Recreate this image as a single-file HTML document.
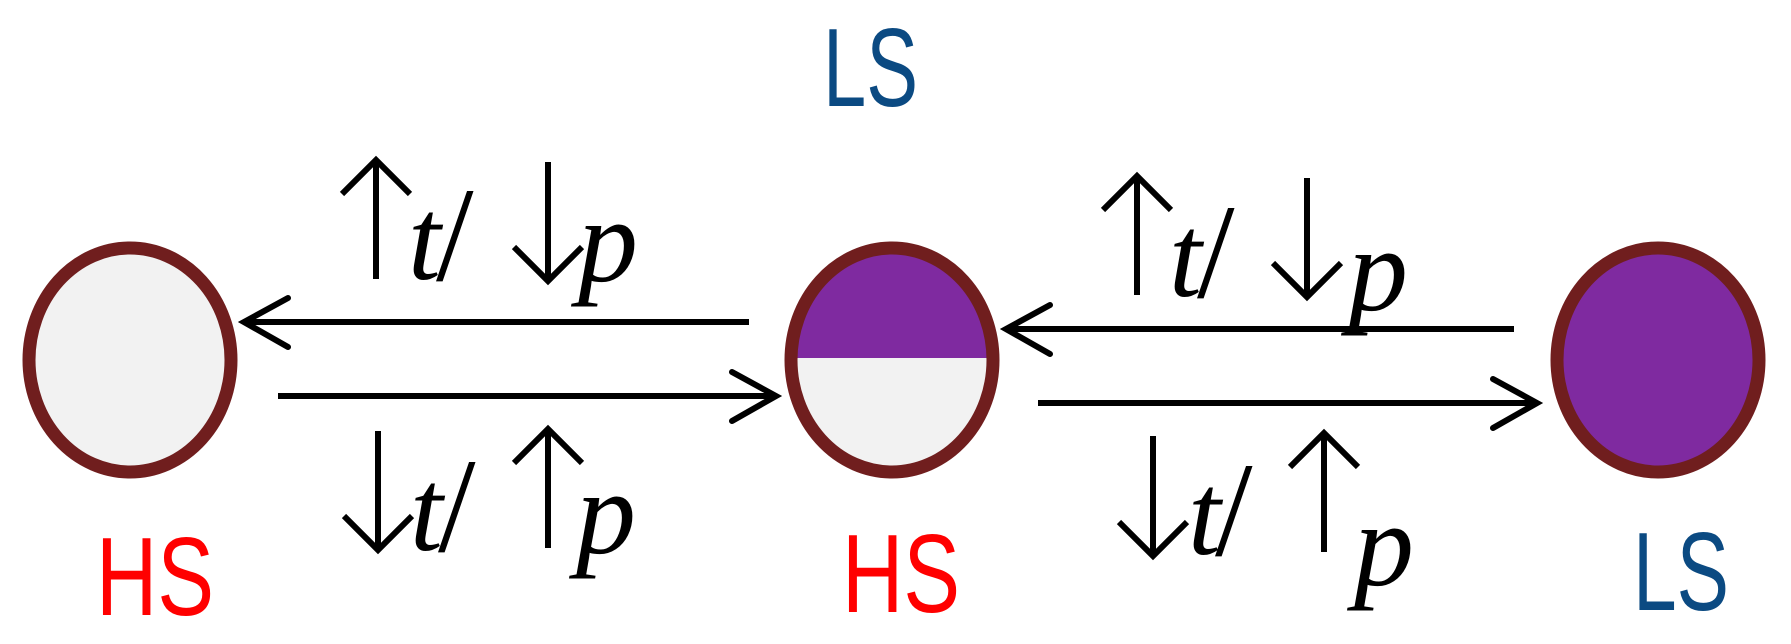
<!DOCTYPE html>
<html><head><meta charset="utf-8"><style>
html,body{margin:0;padding:0;background:#fff;}
svg{display:block}
</style></head><body>
<svg width="1791" height="644" viewBox="0 0 1791 644" xmlns="http://www.w3.org/2000/svg">
<defs>
<clipPath id="mc"><ellipse cx="892" cy="360" rx="101" ry="112"/></clipPath>
</defs>
<ellipse cx="130" cy="360" rx="101" ry="112" fill="#f2f2f2" stroke="#701e1e" stroke-width="13"/>
<g clip-path="url(#mc)">
<rect x="780" y="240" width="230" height="118" fill="#7f2aa0"/>
<rect x="780" y="358" width="230" height="130" fill="#f2f2f2"/>
</g>
<ellipse cx="892" cy="360" rx="101" ry="112" fill="none" stroke="#701e1e" stroke-width="13"/>
<ellipse cx="1658" cy="360" rx="101" ry="112" fill="#7f2aa0" stroke="#701e1e" stroke-width="13"/>

<g stroke="#000" stroke-width="6" fill="none" stroke-linecap="round" stroke-linejoin="miter">
<line x1="246" y1="322" x2="749" y2="322" stroke-linecap="butt"/>
<polyline points="288,298 244,322 288,347"/>
<line x1="278" y1="396" x2="772" y2="396" stroke-linecap="butt"/>
<polyline points="732,372 776,396 732,421"/>
<line x1="1010" y1="329" x2="1514" y2="329" stroke-linecap="butt"/>
<polyline points="1050,305 1006,329 1050,354"/>
<line x1="1038" y1="403" x2="1533" y2="403" stroke-linecap="butt"/>
<polyline points="1493,379 1537,403 1493,428"/>
</g>
<g stroke="#000" stroke-width="6" fill="none">
<line x1="376" y1="160" x2="376" y2="279"/><polyline points="342,194 376,160 410,194"/>
<line x1="548" y1="162" x2="548" y2="281"/><polyline points="514,247 548,281 582,247"/>
<line x1="378" y1="431" x2="378" y2="550"/><polyline points="344,516 378,550 412,516"/>
<line x1="548" y1="429" x2="548" y2="548"/><polyline points="514,463 548,429 582,463"/>
<line x1="1137" y1="176" x2="1137" y2="295"/><polyline points="1103,210 1137,176 1171,210"/>
<line x1="1307" y1="178" x2="1307" y2="297"/><polyline points="1273,263 1307,297 1341,263"/>
<line x1="1153" y1="436" x2="1153" y2="556"/><polyline points="1119,522 1153,556 1187,522"/>
<line x1="1324" y1="433" x2="1324" y2="552"/><polyline points="1290,467 1324,433 1358,467"/>
</g>
<g font-family="'Liberation Serif',serif" fill="#000">
<text x="408" y="279" font-style="italic" font-size="118">t</text>
<text x="436" y="280" font-size="135">/</text>
<text x="578" y="281" font-style="italic" font-size="120">p</text>

<text x="410" y="550" font-style="italic" font-size="118">t</text>
<text x="438" y="551" font-size="135">/</text>
<text x="576" y="553" font-style="italic" font-size="120">p</text>

<text x="1169" y="296" font-style="italic" font-size="118">t</text>
<text x="1197" y="297" font-size="135">/</text>
<text x="1348" y="310" font-style="italic" font-size="120">p</text>

<text x="1188" y="554" font-style="italic" font-size="118">t</text>
<text x="1215" y="555" font-size="135">/</text>
<text x="1354" y="585" font-style="italic" font-size="120">p</text>
</g>
<g font-family="'Liberation Sans',sans-serif" font-size="111">
<text x="823" y="106" fill="#0b4a82" textLength="95" lengthAdjust="spacingAndGlyphs">LS</text>
<text x="96" y="615" fill="#ff0000" textLength="118" lengthAdjust="spacingAndGlyphs">HS</text>
<text x="842" y="612" fill="#ff0000" textLength="118" lengthAdjust="spacingAndGlyphs">HS</text>
<text x="1633" y="610" fill="#0b4a82" textLength="96" lengthAdjust="spacingAndGlyphs">LS</text>
</g>
</svg>
</body></html>
